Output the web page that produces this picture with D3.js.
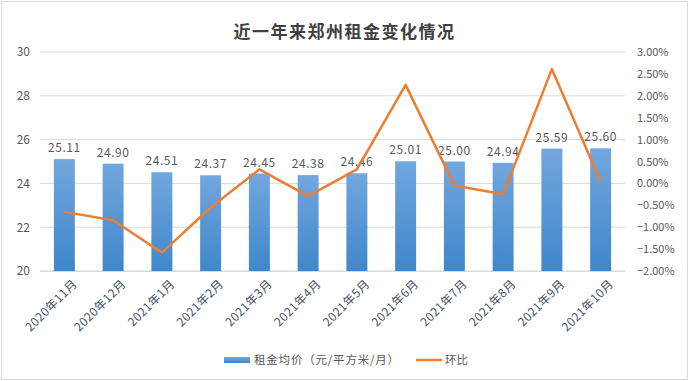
<!DOCTYPE html>
<html>
<head>
<meta charset="utf-8">
<script src="https://cdn.jsdelivr.net/npm/d3@7"></script>
<style>
  body { margin: 0; background: #fff; }
  text { font-family: "Noto Sans CJK SC", "Liberation Sans", sans-serif; }
</style>
</head>
<body>
<svg id="chart" width="689" height="381"></svg>
<script>
const months = ['2020年11月', '2020年12月', '2021年1月', '2021年2月', '2021年3月', '2021年4月',
  '2021年5月', '2021年6月', '2021年7月', '2021年8月', '2021年9月', '2021年10月'];
const rent = [25.11, 24.90, 24.51, 24.37, 24.45, 24.38, 24.46, 25.01, 25.00, 24.94, 25.59, 25.60];
const change = [-0.65, -0.84, -1.58, -0.55, 0.32, -0.29, 0.32, 2.25, -0.05, -0.25, 2.61, 0.04];
const leftTicks = [20, 22, 24, 26, 28, 30];
const rightTicks = [-2, -1.5, -1, -0.5, 0, 0.5, 1, 1.5, 2, 2.5, 3];

const svg = d3.select('#chart');
const margin = { left: 40, right: 64, top: 52, bottom: 110 };
const W = 689, H = 381;
const innerW = W - margin.left - margin.right;
const innerH = H - margin.top - margin.bottom;

svg.append('rect')
  .attr('x', 1.5).attr('y', 1.5)
  .attr('width', W - 3).attr('height', H - 3)
  .attr('fill', '#fff').attr('stroke', '#d9d9d9');

const defs = svg.append('defs');
const grad = defs.append('linearGradient')
  .attr('id', 'barGrad').attr('x1', 0).attr('y1', 0).attr('x2', 0).attr('y2', 1);
grad.append('stop').attr('offset', '0%').attr('stop-color', '#72a7dd');
grad.append('stop').attr('offset', '100%').attr('stop-color', '#3f87cb');

svg.append('text')
  .attr('x', W / 2).attr('y', 38)
  .attr('text-anchor', 'middle')
  .attr('font-size', 17).attr('font-weight', 'bold')
  .attr('fill', '#404040')
  .attr('letter-spacing', 1.5)
  .text('近一年来郑州租金变化情况');

const g = svg.append('g').attr('transform', `translate(${margin.left},${margin.top})`);

const x = d3.scaleBand().domain(months).range([0, innerW]).paddingInner(0.57).paddingOuter(0.285);
const y = d3.scaleLinear().domain([20, 30]).range([innerH, 0]);
const y2 = d3.scaleLinear().domain([-2, 3]).range([innerH, 0]);

// grid
g.append('g').selectAll('line').data(leftTicks).join('line')
  .attr('x1', 0).attr('x2', innerW)
  .attr('y1', d => y(d)).attr('y2', d => y(d))
  .attr('stroke', '#d9d9d9').attr('stroke-width', 1);

// left axis
const yAxis = g.append('g').call(d3.axisLeft(y).tickValues(leftTicks).tickSize(0).tickPadding(10));
yAxis.select('.domain').remove();
yAxis.selectAll('text').attr('font-size', 12).attr('fill', '#595959');

// right axis
const y2Axis = g.append('g').attr('transform', `translate(${innerW},0)`)
  .call(d3.axisRight(y2).tickValues(rightTicks).tickSize(0).tickPadding(12)
    .tickFormat(d => d3.format('.2f')(d).replace('-', '−') + '%'));
y2Axis.select('.domain').remove();
y2Axis.selectAll('text').attr('font-size', 11).attr('fill', '#595959');

// bars
g.append('g').selectAll('rect').data(rent).join('rect')
  .attr('x', (d, i) => x(months[i]))
  .attr('y', d => y(d))
  .attr('width', x.bandwidth())
  .attr('height', d => innerH - y(d))
  .attr('fill', 'url(#barGrad)');

// bar labels
g.append('g').selectAll('text').data(rent).join('text')
  .attr('x', (d, i) => x(months[i]) + x.bandwidth() / 2)
  .attr('y', d => y(d) - 7)
  .attr('text-anchor', 'middle')
  .attr('font-size', 12).attr('fill', '#595959')
  .attr('letter-spacing', 0.6)
  .text(d => d3.format('.2f')(d));

// x axis
const xAxis = g.append('g').attr('transform', `translate(0,${innerH})`)
  .call(d3.axisBottom(x).tickSize(0).tickPadding(8));
xAxis.select('.domain').attr('stroke', '#d9d9d9');
xAxis.selectAll('text')
  .attr('font-size', 12).attr('fill', '#44546a')
  .attr('letter-spacing', 0.4)
  .attr('text-anchor', 'end')
  .attr('dy', '0.35em')
  .attr('transform', 'translate(5,5) rotate(-45)');

// line
const line = d3.line()
  .x((d, i) => x(months[i]) + x.bandwidth() / 2)
  .y(d => y2(d));
g.append('path').datum(change)
  .attr('d', line)
  .attr('fill', 'none')
  .attr('stroke', '#ed7d31')
  .attr('stroke-width', 2.5)
  .attr('stroke-linejoin', 'round');

// legend
const legend = svg.append('g').attr('transform', 'translate(224,360)');
legend.append('rect').attr('x', 0).attr('y', -3).attr('width', 26).attr('height', 6).attr('fill', 'url(#barGrad)');
legend.append('text').attr('x', 30).attr('y', 4).attr('font-size', 11.5).attr('fill', '#595959')
  .attr('letter-spacing', 0.8)
  .text('租金均价（元/平方米/月）');
legend.append('line').attr('x1', 192).attr('x2', 218).attr('y1', 0).attr('y2', 0)
  .attr('stroke', '#ed7d31').attr('stroke-width', 2.5);
legend.append('text').attr('x', 221).attr('y', 4).attr('font-size', 11.5).attr('fill', '#595959')
  .text('环比');
</script>
</body>
</html>
